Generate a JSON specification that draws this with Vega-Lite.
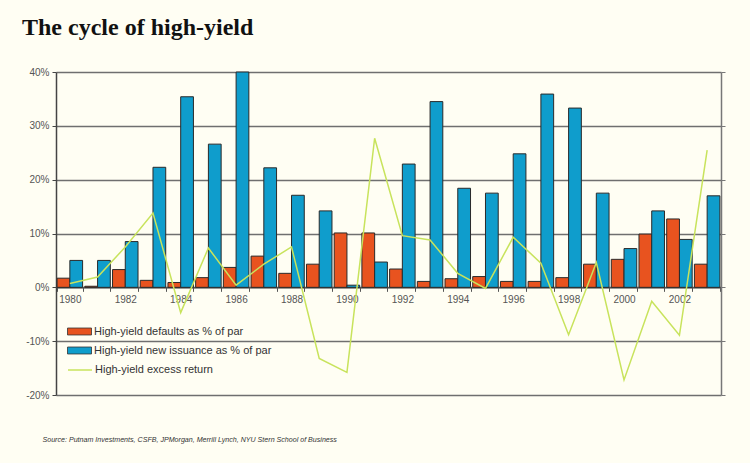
{
  "$schema": "https://vega.github.io/schema/vega-lite/v6.json",
  "autosize": {"type": "none"},
  "padding": {"left": 56, "top": 72, "right": 29, "bottom": 68},
  "width": 665,
  "height": 323,
  "background": "#fffef3",
  "config": {
    "view": {"stroke": null},
    "font": "Liberation Sans"
  },
  "title": {
    "text": "The cycle of high-yield",
    "font": "Liberation Serif",
    "fontWeight": "bold",
    "fontSize": 24,
    "color": "#111111",
    "anchor": "start",
    "frame": "group",
    "dx": -34,
    "offset": 27
  },
  "data": {
    "values": [
      {"year": 1980, "defaults": 1.7, "issuance": 5.0, "excess": 0.7},
      {"year": 1981, "defaults": 0.2, "issuance": 5.0, "excess": 1.9},
      {"year": 1982, "defaults": 3.3, "issuance": 8.5, "excess": 7.5},
      {"year": 1983, "defaults": 1.3, "issuance": 22.3, "excess": 13.8},
      {"year": 1984, "defaults": 0.9, "issuance": 35.4, "excess": -4.7},
      {"year": 1985, "defaults": 1.8, "issuance": 26.6, "excess": 7.3},
      {"year": 1986, "defaults": 3.7, "issuance": 40.0, "excess": 0.4},
      {"year": 1987, "defaults": 5.8, "issuance": 22.2, "excess": 4.3},
      {"year": 1988, "defaults": 2.6, "issuance": 17.1, "excess": 7.5},
      {"year": 1989, "defaults": 4.3, "issuance": 14.2, "excess": -13.2},
      {"year": 1990, "defaults": 10.1, "issuance": 0.4, "excess": -15.8},
      {"year": 1991, "defaults": 10.1, "issuance": 4.7, "excess": 27.7},
      {"year": 1992, "defaults": 3.4, "issuance": 22.9, "excess": 9.6},
      {"year": 1993, "defaults": 1.1, "issuance": 34.5, "excess": 8.8},
      {"year": 1994, "defaults": 1.6, "issuance": 18.4, "excess": 2.6},
      {"year": 1995, "defaults": 2.0, "issuance": 17.5, "excess": -0.2},
      {"year": 1996, "defaults": 1.1, "issuance": 24.8, "excess": 9.3},
      {"year": 1997, "defaults": 1.1, "issuance": 35.9, "excess": 4.5},
      {"year": 1998, "defaults": 1.8, "issuance": 33.3, "excess": -8.8},
      {"year": 1999, "defaults": 4.3, "issuance": 17.5, "excess": 4.6},
      {"year": 2000, "defaults": 5.2, "issuance": 7.2, "excess": -17.2},
      {"year": 2001, "defaults": 9.9, "issuance": 14.2, "excess": -2.6},
      {"year": 2002, "defaults": 12.7, "issuance": 8.9, "excess": -8.9},
      {"year": 2003, "defaults": 4.3, "issuance": 17.0, "excess": 25.5}
    ]
  },
  "resolve": {"axis": {"x": "independent", "y": "independent"}},
  "layer": [
    {
      "transform": [{"fold": ["defaults", "issuance"], "as": ["series", "value"]}],
      "mark": {"type": "bar", "stroke": "#2a2a2a", "strokeWidth": 1},
      "encoding": {
        "x": {
          "field": "year",
          "type": "ordinal",
          "scale": {"paddingInner": 0.08, "paddingOuter": 0.04},
          "axis": {
            "orient": "bottom",
            "offset": -107.67,
            "title": null,
            "labelAngle": 0,
            "labelExpr": "datum.value % 2 == 0 ? datum.label : ''",
            "labelOverlap": false,
            "labelFont": "Liberation Sans",
            "labelFontSize": 10,
            "labelColor": "#555555",
            "labelPadding": 3,
            "tickBand": "extent",
            "tickSize": 4,
            "tickColor": "#555555",
            "domainColor": "#555555",
            "domainWidth": 1.5,
            "grid": false
          }
        },
        "xOffset": {"field": "series", "type": "nominal", "scale": {"domain": ["defaults", "issuance"], "paddingInner": 0}},
        "y": {
          "field": "value",
          "type": "quantitative",
          "scale": {"domain": [-20, 40], "nice": false},
          "axis": {
            "orient": "left",
            "title": null,
            "values": [-20, -10, 0, 10, 20, 30, 40],
            "labelExpr": "datum.value + '%'",
            "labelFont": "Liberation Sans",
            "labelFontSize": 10,
            "labelColor": "#555555",
            "labelPadding": 3,
            "tickSize": 4,
            "tickColor": "#444444",
            "domainColor": "#444444",
            "domainWidth": 1.5,
            "grid": true,
            "gridColor": "#6f6f6f",
            "gridWidth": 1.3
          }
        },
        "fill": {
          "field": "series",
          "type": "nominal",
          "scale": {"domain": ["defaults", "issuance"], "range": ["#e8531f", "#0f9dcc"]},
          "legend": {
            "title": null,
            "orient": "none",
            "legendX": 17,
            "legendY": 253,
            "direction": "vertical",
            "padding": 0,
            "symbolType": "M-2,-0.58H2V0.58H-2Z",
            "symbolSize": 144,
            "symbolStrokeColor": "#333333",
            "symbolStrokeWidth": 0.8,
            "symbolOpacity": 1,
            "labelOffset": 8,
            "labelLimit": 400,
            "rowPadding": 7,
            "labelFont": "Liberation Sans",
            "labelFontSize": 11,
            "labelColor": "#333333",
            "labelExpr": "datum.value == 'defaults' ? 'High-yield defaults as % of par' : 'High-yield new issuance as % of par'"
          }
        }
      }
    },
    {
      "mark": {"type": "line", "strokeWidth": 1.5},
      "encoding": {
        "x": {
          "field": "year",
          "type": "ordinal",
          "axis": {
            "orient": "bottom",
            "title": "Source: Putnam Investments, CSFB, JPMorgan, Merrill Lynch, NYU Stern School of Business",
            "titleFont": "Liberation Sans",
            "titleFontStyle": "italic",
            "titleFontWeight": "normal",
            "titleFontSize": 7.1,
            "titleColor": "#333333",
            "titleAnchor": "start",
            "titleAlign": "left",
            "titleBaseline": "alphabetic",
            "titleX": -14,
            "titleY": 46,
            "titleLimit": 600,
            "labels": false,
            "ticks": false,
            "domain": false,
            "grid": false
          }
        },
        "y": {
          "field": "excess",
          "type": "quantitative",
          "axis": {
            "orient": "right",
            "title": null,
            "labels": false,
            "values": [-20, -10, 0, 10, 20, 30, 40],
            "tickSize": 4,
            "tickColor": "#777777",
            "domainColor": "#777777",
            "domainWidth": 1.5,
            "grid": false
          }
        },
        "stroke": {
          "datum": "High-yield excess return",
          "type": "nominal",
          "scale": {"range": ["#c8e35c"]},
          "legend": {
            "title": null,
            "orient": "none",
            "legendX": 17,
            "legendY": 291,
            "padding": 0,
            "symbolType": "M-2,0H2",
            "symbolSize": 144,
            "symbolStrokeWidth": 1.5,
            "labelOffset": 8,
            "labelLimit": 400,
            "labelFont": "Liberation Sans",
            "labelFontSize": 11,
            "labelColor": "#333333"
          }
        }
      }
    }
  ]
}
